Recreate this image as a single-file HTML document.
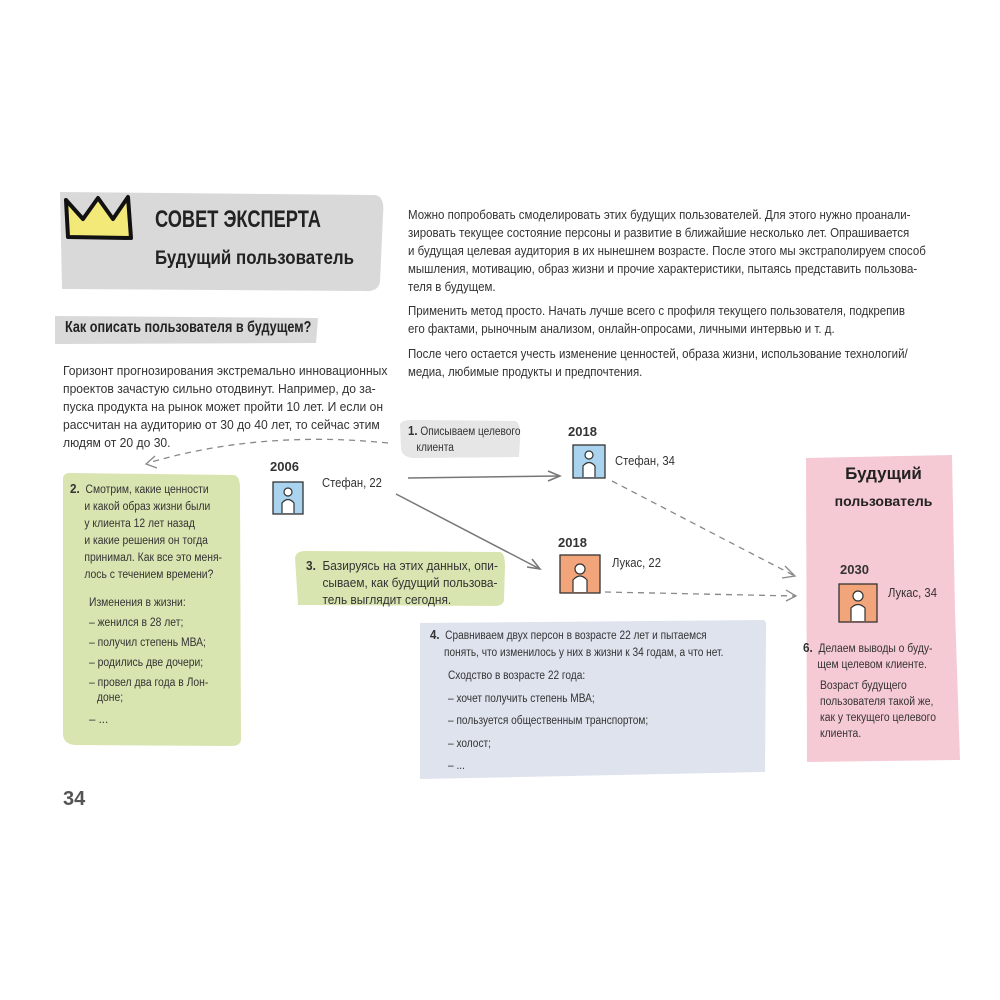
<!DOCTYPE html>
<html><head><meta charset="utf-8"><style>
body{margin:0;width:1000px;height:1000px;background:#fff;position:relative;overflow:hidden;font-family:"Liberation Sans",sans-serif;color:#333}
.a{position:absolute;white-space:nowrap;transform-origin:0 0}
.t{font-size:12.5px;line-height:18px;color:#333}
.b{font-weight:bold}
.hand{font-weight:bold;color:#222}
</style></head><body>
<svg class="a" style="left:0;top:0" width="1000" height="1000">
<path d="M60,192 L375,195 Q385,196 383,215 L380,282 Q378,292 365,291 L62,289 Z" fill="#d9d9d9"/>
<path d="M55,316 L318,318 L316,343 L55,344 Z" fill="#d9d9d9"/>
<path d="M68,237 L66,200 L83,219 L98,198 L113,219 L128,197 L131,238 Z" fill="#f3e978" stroke="#111" stroke-width="4" stroke-linejoin="round"/>
<path d="M400,424 Q402,419 420,420 L515,421 Q521,422 520,440 L519,457 L415,458 Q402,458 401,448 Z" fill="#e6e6e6"/>
<path d="M63,478 Q64,472 72,473 L234,475 Q240,476 240,488 L241,740 Q240,746 232,746 L75,745 Q64,744 63,735 Z" fill="#d8e5b1"/>
<path d="M295,558 Q296,551 305,551 L500,552 Q505,553 505,566 L504,600 Q503,606 495,606 L298,605 Z" fill="#d8e5b1"/>
<path d="M420,623 L763,620 Q767,620 766,630 L765,772 L420,779 Z" fill="#dfe3ee"/>
<path d="M806,458 L952,455 L955,610 L960,760 L807,762 Z" fill="#f6cad4"/>
<g stroke="#333" stroke-width="1.3">
<rect x="273" y="482" width="30" height="32" fill="#a9d3ee"/>
<rect x="573" y="445" width="32" height="33" fill="#a9d3ee"/>
<rect x="560" y="555" width="40" height="38" fill="#f2a57b"/>
<rect x="839" y="584" width="38" height="38" fill="#f2a57b"/>
</g>
<g fill="#fff" stroke="#333" stroke-width="1.2">
<circle cx="288" cy="492" r="4"/><path d="M282,513 L282,503 Q288,496 294,503 L294,513"/>
<circle cx="589" cy="455" r="4"/><path d="M583,477 L583,466 Q589,459 595,466 L595,477"/>
<circle cx="580" cy="569" r="5"/><path d="M573,592 L573,580 Q580,572 587,580 L587,592"/>
<circle cx="858" cy="596" r="5"/><path d="M851,621 L851,608 Q858,601 865,608 L865,621"/>
</g>
<g stroke="#777" stroke-width="1.5" fill="none">
<path d="M408,478 L560,476"/><path d="M548,471 L560,476 L548,481"/>
<path d="M396,494 L540,569"/><path d="M527,567 L540,569 L532,559"/>
</g>
<g stroke="#888" stroke-width="1.3" fill="none" stroke-dasharray="6,5">
<path d="M388,443 Q260,430 148,463"/>
<path d="M612,481 L793,575"/>
<path d="M605,592 L795,596"/>
</g>
<g stroke="#888" stroke-width="1.3" fill="none">
<path d="M155,456 L146,464 L157,468"/>
<path d="M785,566 L795,576 L782,578"/>
<path d="M786,590 L796,596 L786,601"/>
</g>
</svg>

<div class="a hand" style="left:155px;top:206px;font-size:24px;transform:scaleX(.76)">СОВЕТ ЭКСПЕРТА</div>
<div class="a hand" style="left:155px;top:248px;font-size:19px;transform:scaleX(.89)">Будущий пользователь</div>
<div class="a hand" style="left:65px;top:319px;font-size:16px;transform:scaleX(.79)">Как описать пользователя в будущем?</div>

<div class="a t" style="left:63px;top:362px;transform:scaleX(.97)">Горизонт прогнозирования экстремально инновационных<br>проектов зачастую сильно отодвинут. Например, до за-<br>пуска продукта на рынок может пройти 10 лет. И если он<br>рассчитан на аудиторию от 30 до 40 лет, то сейчас этим<br>людям от 20 до 30.</div>

<div class="a t" style="left:408px;top:206px;transform:scaleX(.92)">Можно попробовать смоделировать этих будущих пользователей. Для этого нужно проанали-<br>зировать текущее состояние персоны и развитие в ближайшие несколько лет. Опрашивается<br>и будущая целевая аудитория в их нынешнем возрасте. После этого мы экстраполируем способ<br>мышления, мотивацию, образ жизни и прочие характеристики, пытаясь представить пользова-<br>теля в будущем.</div>
<div class="a t" style="left:408px;top:302px;transform:scaleX(.92)">Применить метод просто. Начать лучше всего с профиля текущего пользователя, подкрепив<br>его фактами, рыночным анализом, онлайн-опросами, личными интервью и т. д.</div>
<div class="a t" style="left:408px;top:345px;transform:scaleX(.92)">После чего остается учесть изменение ценностей, образа жизни, использование технологий/<br>медиа, любимые продукты и предпочтения.</div>

<div class="a t" style="left:408px;top:423px;font-size:11.5px;line-height:16px;transform:scaleX(.88)"><b style="font-size:13px">1.</b> Описываем целевого<br>&nbsp;&nbsp;&nbsp;клиента</div>

<div class="a b" style="left:270px;top:459px;font-size:13px">2006</div>
<div class="a t" style="left:322px;top:474px;transform:scaleX(.9)">Стефан, 22</div>
<div class="a b" style="left:568px;top:424px;font-size:13px">2018</div>
<div class="a t" style="left:615px;top:452px;transform:scaleX(.9)">Стефан, 34</div>
<div class="a b" style="left:558px;top:535px;font-size:13px">2018</div>
<div class="a t" style="left:612px;top:554px;transform:scaleX(.9)">Лукас, 22</div>

<div class="a t" style="left:70px;top:480px;font-size:11.5px;line-height:17px;transform:scaleX(.9)"><b style="font-size:13px">2.</b>&nbsp; Смотрим, какие ценности<br>&nbsp;&nbsp;&nbsp;&nbsp;&nbsp;и какой образ жизни были<br>&nbsp;&nbsp;&nbsp;&nbsp;&nbsp;у клиента 12 лет назад<br>&nbsp;&nbsp;&nbsp;&nbsp;&nbsp;и какие решения он тогда<br>&nbsp;&nbsp;&nbsp;&nbsp;&nbsp;принимал. Как все это меня-<br>&nbsp;&nbsp;&nbsp;&nbsp;&nbsp;лось с течением времени?</div>
<div class="a t" style="left:89px;top:593px;font-size:11.5px;line-height:20px;transform:scaleX(.9)">Изменения в жизни:<br>– женился в 28 лет;<br>– получил степень МВА;<br>– родились две дочери;<br>– провел два года в Лон-</div>
<div class="a t" style="left:97px;top:689px;font-size:11.5px;transform:scaleX(.9)">доне;</div>
<div class="a t" style="left:89px;top:711px;font-size:11.5px">– ...</div>

<div class="a t" style="left:306px;top:558px;line-height:17px;transform:scaleX(.95)"><b>3.</b>&nbsp; Базируясь на этих данных, опи-<br>&nbsp;&nbsp;&nbsp;&nbsp;&nbsp;сываем, как будущий пользова-<br>&nbsp;&nbsp;&nbsp;&nbsp;&nbsp;тель выглядит сегодня.</div>

<div class="a t" style="left:430px;top:626px;font-size:11.5px;line-height:17px;transform:scaleX(.88)"><b style="font-size:13px">4.</b>&nbsp; Сравниваем двух персон в возрасте 22 лет и пытаемся<br>&nbsp;&nbsp;&nbsp;&nbsp;&nbsp;понять, что изменилось у них в жизни к 34 годам, а что нет.</div>
<div class="a t" style="left:448px;top:665px;font-size:11.5px;line-height:22.5px;transform:scaleX(.88)">Сходство в возрасте 22 года:<br>– хочет получить степень МВА;<br>– пользуется общественным транспортом;<br>– холост;<br>– ...</div>

<div class="a hand" style="left:806px;top:460px;width:155px;text-align:center;font-size:17px;line-height:27px">Будущий<br><span style="font-size:14px">пользователь</span></div>
<div class="a b" style="left:840px;top:562px;font-size:13px">2030</div>
<div class="a t" style="left:888px;top:584px;transform:scaleX(.9)">Лукас, 34</div>
<div class="a t" style="left:803px;top:640px;font-size:11.5px;line-height:16px;transform:scaleX(.9)"><b style="font-size:13px">6.</b>&nbsp; Делаем выводы о буду-<br>&nbsp;&nbsp;&nbsp;&nbsp;&nbsp;щем целевом клиенте.</div>
<div class="a t" style="left:820px;top:678px;font-size:11.5px;line-height:16px;transform:scaleX(.9)">Возраст будущего<br>пользователя такой же,<br>как у текущего целевого<br>клиента.</div>

<div class="a b" style="left:63px;top:788px;font-size:20px;color:#555">34</div>
</body></html>
